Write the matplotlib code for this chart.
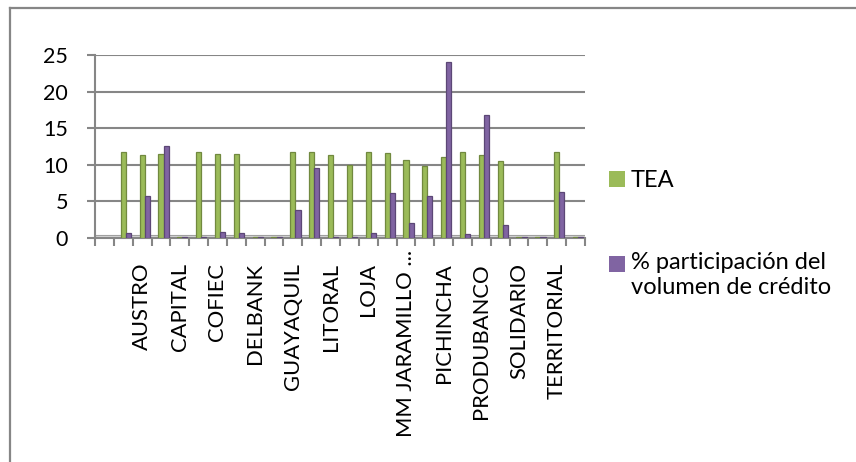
import numpy as np
import matplotlib
matplotlib.use("Agg")
import matplotlib.pyplot as plt
from matplotlib.patches import Patch
from matplotlib.lines import Line2D
from matplotlib.transforms import ScaledTranslation

plt.rcParams['font.family'] = ['Lato', 'DejaVu Sans']

categories = ["", "AMAZONAS", "AUSTRO", "BOLIVARIANO", "CAPITAL", "CITIBANK",
              "COFIEC", "COMERCIAL DE MANABI", "DELBANK", "FINCA", "GUAYAQUIL",
              "INTERNACIONAL", "LITORAL", "LLOYDS BANK", "LOJA", "MACHALA",
              "MM JARAMILLO ...", "PACIFICO", "PICHINCHA", "PROCREDIT",
              "PRODUBANCO", "PROMERICA", "SOLIDARIO", "SUDAMERICANO",
              "TERRITORIAL", "UNIBANCO"]
tea = [np.nan, 11.7, 11.3, 11.5, 0.1, 11.8, 11.5, 11.5, 0.1, 0.1, 11.8, 11.7,
       11.4, 10.0, 11.8, 11.6, 10.7, 9.9, 11.1, 11.7, 11.3, 10.5, 0.1, 0.1,
       11.8, 0.1]
participacion = [np.nan, 0.7, 5.7, 12.6, 0.1, 0.2, 0.8, 0.7, 0.1, 0.1, 3.8, 9.5,
                 0.1, 0.1, 0.7, 6.2, 2.0, 5.7, 24.0, 0.5, 16.8, 1.8, 0.1, 0.1,
                 6.3, 0.1]
yticks = [0, 5, 10, 15, 20, 25]
series_names = ["TEA", "% participación del\nvolumen de crédito"]

GREEN = "#9BBB59"
GREEN_D = "#71893F"
PURPLE = "#8064A2"
PURPLE_D = "#5C4776"
GRID = "#868686"

W, H = 856, 462
fig = plt.figure(figsize=(W / 100, H / 100), dpi=100)
ax = fig.add_axes([95 / W, 1 - 238 / H, 490 / W, 183 / H])

x = np.arange(len(categories))
bw = 0.27
ax.bar(x, tea, width=bw, color=GREEN, edgecolor=GREEN_D, linewidth=0.9, zorder=3)
ax.bar(x + bw, participacion, width=bw, color=PURPLE, edgecolor=PURPLE_D,
       linewidth=0.9, zorder=3)

# floor
ax.axhspan(0, 0.35, facecolor="#D6D6D6", edgecolor="#A0A0A0", linewidth=0.8, zorder=1)

ax.set_xlim(-0.5, len(categories) - 0.5)
ax.set_ylim(0, 25)
ax.set_yticks(yticks)
ax.yaxis.grid(True, color=GRID, linewidth=1.5, zorder=0)
ax.set_axisbelow(True)

for s in ["top", "right"]:
    ax.spines[s].set_visible(False)
for s in ["left", "bottom"]:
    ax.spines[s].set_color(GRID)
    ax.spines[s].set_linewidth(1.5)

ax.tick_params(axis="y", length=5.8, width=1.5, color=GRID, pad=13.5,
               labelsize=15.5)
ax.set_xticks(x[::2])
ax.set_xticklabels(categories[::2], rotation=90, va="top", ha="center")
ax.set_xticks(np.arange(-0.5, len(categories)), minor=True)
ax.tick_params(axis="x", which="major", length=0, pad=18, labelsize=15.8)
ax.tick_params(axis="x", which="minor", length=5.8, width=1.5, color=GRID)

for lab in ax.get_xticklabels():
    if lab.get_text().endswith("..."):
        lab.set_transform(lab.get_transform() + ScaledTranslation(0, 0.13, fig.dpi_scale_trans))

handles = [Patch(facecolor=GREEN, edgecolor="none"),
           Patch(facecolor=PURPLE, edgecolor="none")]
leg = fig.legend(handles, series_names, loc="upper left",
                 bbox_to_anchor=(609 / W, 1 - 170 / H), frameon=False,
                 fontsize=17, handlelength=0.68, handleheight=0.68,
                 handletextpad=0.25, labelspacing=2.6, borderpad=0,
                 borderaxespad=0)
# align the second square with the first line of its label
p2 = leg.get_patches()[1]
p2.set_y(p2.get_y() + 8.0)

# outer chart frame
fig.add_artist(Line2D([10 / W, 1.0], [1 - 8 / H, 1 - 8 / H], color=GRID, linewidth=1.6))
fig.add_artist(Line2D([10 / W, 10 / W], [0, 1 - 8 / H], color=GRID, linewidth=1.6))

fig.savefig("out.png", dpi=100)
